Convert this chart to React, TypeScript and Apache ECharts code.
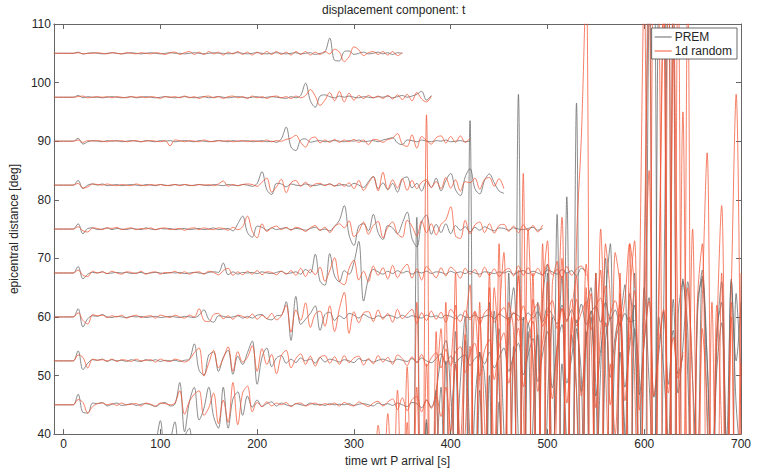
import React, { useEffect, useRef } from "react";
import * as echarts from "echarts";

// ---- data: transverse displacement traces, amplitude (deg units) every 5 s ----
const STEP = 5;
const xTicks = [0, 100, 200, 300, 400, 500, 600, 700];

const prem105 = [
  0,0,0,0,0,0.2,-0.1,0,0.1,0,
  -0.1,0,0.1,0,-0.1,0,0.1,0,-0.1,0,
  0.1,0,-0.1,0,0.1,0,0,-0.1,0,0.1,
  0,-0.1,0,0.1,0,0,-0.1,0,0.1,0,
  -0.1,0,0.1,0,-0.1,0,0.1,0,-0.1,0,
  0.1,-0.1,0,0.1,-0.2,0,0.2,2.6,-1.2,-1.3,
  0.3,0.4,-0.2,0,0.2,-0.1,0,0.2,-0.1,0.1,
  -0.2,0.1,0,
];
const rand105 = [
  0,0,0,0,0,0.1,-0.1,0,0,0.1,
  0,-0.1,0.1,0,-0.1,0.1,0,-0.1,0.1,0,
  -0.1,0.1,0,-0.2,0.1,0.2,-0.2,0.1,0.3,-0.2,
  0.2,-0.2,0.3,-0.1,0.2,-0.3,0.2,-0.1,0.3,-0.2,
  0.2,-0.3,0.2,-0.2,0.3,-0.2,0.3,-0.2,0.2,-0.3,
  0.3,-0.2,0.3,-0.3,0.2,-0.2,0.3,-0.1,0.7,0.2,
  -1.4,-0.6,1.1,0.6,-0.4,0.1,0.3,-0.2,0.3,-0.3,
  0.3,-0.4,0.1,
];
const prem97 = [
  0,0,0,0,0,0.3,-0.1,0.1,0,0,
  -0.1,0,0.1,0,-0.1,0,0.1,-0.1,0,0.1,
  0,-0.1,0,0.1,0,-0.1,0,0.1,0,-0.1,
  0,0.1,-0.1,0,0.1,0,-0.1,0,0.1,0,
  -0.1,0,0.1,-0.1,0,0.1,0,-0.1,-0.2,0.1,
  -0.1,0.3,2.4,-0.6,-1.7,0.2,0.4,0.1,-0.1,0.2,
  0,0.2,0,-0.1,0.1,0,-0.1,0.1,0,0.2,
  -0.1,0.1,0.3,0,0.2,0.5,1.0,-0.5,0.3,
];
const rand97 = [
  0,0,0,0,0,0.1,0.2,-0.1,0,0.1,
  0,0.1,-0.1,0.1,0,-0.1,0.1,0,0.1,-0.1,
  0.1,0,-0.2,0.1,0,0.1,-0.1,0.2,-0.1,0.1,
  -0.2,0.1,0.2,-0.1,0.1,-0.2,0.1,0.2,-0.1,0.1,
  -0.2,0.2,-0.1,0.1,-0.2,0.1,0.2,-0.1,0.1,-0.2,
  0.2,-0.1,0.3,1.3,0.2,-1.4,-0.5,0.8,-0.6,1.0,
  -0.8,0.7,-0.5,0.3,-0.2,0.3,-0.1,0.2,-0.2,0.3,
  -0.3,0.4,-0.4,0.5,-0.6,0.8,-0.3,-0.8,0.2,
];
const prem90 = [
  0,0,0,0,0,0.5,-0.5,-0.1,0.1,0,
  -0.1,0.1,0,0.1,-0.1,0,0.1,0,-0.1,0.1,
  0,-0.1,0.1,0,0.1,-0.1,0,0.1,0,-0.1,
  0.1,0,-0.1,0,0.1,0,-0.1,0.1,0,0,
  0.1,-0.1,0,0.1,-0.1,0,-0.2,0.4,2.4,-1.0,
  -1.6,0.2,0.4,-0.2,0,0.1,-0.1,0,0.1,0,
  -0.1,0.1,0,0.2,-0.1,0,0.1,-0.1,0.2,0.4,
  0.6,-0.3,-0.6,0.2,0.1,-0.1,0.2,0,-0.1,0.1,
  0,0.2,-0.1,0,0.1,-0.1,0,
];
const rand90 = [
  0,0,0,0,0,0.2,-0.2,0.1,0,0.1,
  0,-0.1,0.1,0,0.1,-0.1,0,0.1,-0.1,0,
  0.1,0,-0.1,0.1,-0.8,0.2,0.1,-0.1,0.1,0,
  -0.1,0.2,0,-0.1,0.1,0,0.1,-0.1,0,0.1,
  -0.1,0.1,0,-0.1,0.2,-0.1,0.1,0,0.3,0.5,
  1.0,-0.2,-1.0,0.4,0.7,-0.3,0.2,-0.2,0.3,-0.2,
  0.2,-0.1,0.3,-0.2,0.2,-0.6,0.3,0.2,-0.2,0.3,
  0.5,1.3,-0.5,-0.9,1.1,-1.2,0.8,0.1,-0.5,0.6,
  0.9,-0.3,0.8,-0.2,0.9,-0.2,0.5,
];
const prem82 = [
  0,0,0,0,0,0.8,-0.6,0,0.2,0,
  0.2,-0.1,0,0.1,-0.1,0,0.1,0,-0.1,0.1,
  0,-0.1,0.1,0,-0.1,0.1,0,0.1,-0.1,0,
  0.1,0,-0.1,0.1,0,-0.1,0.1,0,-0.1,0.1,
  0,-0.2,0.3,2.3,-0.8,-1.6,0.3,0.2,-0.3,0.2,
  0,-0.1,0.2,0,-0.1,0.1,0,0.2,-0.1,0,
  0.1,-0.2,0.3,0,-0.4,0.6,1.5,-0.6,0.4,-0.8,
  0.3,-1.2,1.0,1.4,-0.5,0.3,-1.0,0.6,-0.4,1.2,
  -1.0,0.8,2.0,-0.8,-1.8,1.4,2.8,-0.6,-1.5,0.8,
  1.9,0.4,-1.0,-1.4,
];
const rand82 = [
  0,0,0,0,0,0.3,-0.5,-0.3,0.2,0.1,
  0,0.2,0,-0.1,0.1,0,-0.1,0.2,0,-0.1,
  0.1,0,0.1,-0.1,0,0.1,-0.1,0.1,0,-0.1,
  0.1,0,0.1,-0.1,0.2,0.7,-0.2,0.1,-0.1,0.1,
  0.2,0.1,-0.2,0.5,1.2,-1.2,-0.3,1.0,-1.3,0.4,
  0.8,-0.2,0.5,-0.3,0.2,0.3,-0.1,0.2,-0.2,0.3,
  -0.2,0.4,-0.6,0.8,-0.9,0.3,1.4,-1.0,2.2,-0.7,
  0.9,-0.5,1.1,-0.9,0.8,-0.6,0.5,0.9,-0.4,0.6,
  -0.6,1.3,-0.5,0.9,-1.0,0.6,0.4,1.2,-0.7,1.0,
  1.3,-0.2,1.1,-0.6,
];
const prem75 = [
  0,0,0,0,0,0.9,-0.8,0.1,0.2,-0.1,
  0,0.2,-0.1,0.1,0,-0.1,0.1,0,-0.1,0.2,
  0,-0.1,0.1,0,0.1,-0.1,0,0.1,-0.1,0,
  0.1,-0.1,0,0.2,-0.1,0,0.1,-0.3,0.9,2.2,
  -0.6,-1.4,0.5,0.3,-0.2,0.2,-0.1,0.1,0.2,-0.1,
  0.1,0,-0.2,0.1,0.3,-0.2,0,-0.3,0.5,1.5,
  4.0,-1.0,-2.8,0.5,0.9,-0.3,2.5,-0.6,-1.8,0.6,
  0.2,-0.8,1.0,2.9,-1.6,-3.0,1.2,2.4,-0.9,0.8,
  -0.6,0.9,-0.8,0.6,-0.2,0.4,-0.5,0.3,-0.2,0.4,
  0,-0.3,0.2,0.1,-0.2,0.2,0,-0.1,0.1,0.3,
  -0.2,0.1,
];
const rand75 = [
  0,0,0,0,0,0.4,-0.3,-0.5,0.2,0.1,
  -0.1,0.2,0.1,0.3,-0.1,0.1,0.2,-0.1,0.1,0,
  0.2,-0.1,0.1,0.2,-0.1,0,0.1,-0.2,0.1,0.2,
  -0.1,0.2,0,-0.1,0.2,0.1,-0.2,0.3,-0.1,0.4,
  2.2,-0.4,-1.5,0.9,-0.4,0.2,0.5,-0.1,0.3,-0.2,
  0.3,0.1,-0.4,0.2,0.6,-0.2,0.3,-0.6,0.4,0.9,
  0.2,1.4,-1.3,-0.4,1.2,-0.9,0.6,1.3,-1.5,0.3,
  1.2,-0.8,-1.4,1.5,0.5,-1.2,1.4,-0.6,0.9,-1.0,
  0.8,1.6,3.8,-1.2,-1.6,1.5,-0.8,0.7,1.2,-0.6,
  0.9,-0.7,0.6,0.8,-0.4,0.5,-0.6,0.7,-0.3,0.6,
  -0.5,0.7,
];
const prem67 = [
  0,0,0,0,0,1.1,-1.0,-0.2,0.1,0,
  0.2,-0.1,0,0.1,0,0.1,-0.1,0,0.1,-0.1,
  0,0.1,0,-0.1,0.1,0,0.1,-0.1,0,0.1,
  0,-0.1,0.1,0.2,0.1,1.7,-0.3,0.2,-0.2,0.1,
  0,0.1,-0.1,0.2,0,-0.1,0.1,0.3,-0.1,0,
  0.2,-0.2,0.6,0,3.2,-1.4,-2.1,3.3,-0.5,-1.5,
  0.4,-0.2,1.8,5.4,-4.8,-1.0,0.6,0.2,-0.2,0.3,
  -0.1,0.4,0,0.3,-0.2,0.2,0,0.3,-0.1,0.2,
  0.1,-0.2,0.3,0,0.2,-0.1,0.3,0,-0.2,0.2,
  0.1,-0.1,0.2,0,0.3,-0.2,0.2,0.4,-0.1,0.3,
  0,-0.3,0.5,0.2,-0.2,0.6,0,0.4,-0.5,0.8,0.3,
];
const rand67 = [
  0,0,0,0,0,0.5,-0.4,-0.6,0.3,0,
  0.2,-0.1,0.3,0,-0.2,0.2,0.1,-0.1,0.3,-0.2,
  0.1,0.2,-0.2,0.1,0,0.3,-0.1,0.2,-0.2,0.1,
  0.2,-0.2,0.3,0.1,-0.3,0.4,0.8,-0.4,0.2,-0.3,
  0.3,-0.2,0.4,-0.3,0.2,0.1,-0.3,0.3,-0.2,0.4,
  -0.4,0.8,-0.6,0.6,-0.3,1.0,-1.4,0.4,2.6,-1.4,
  -2.0,0.8,2.2,-1.2,0.3,-1.5,1.2,-0.4,0.9,-1.0,
  1.3,-0.8,0.6,1.5,-0.9,0.7,-1.2,1.1,0.2,-0.8,
  0.9,-0.5,1.0,0.3,-0.9,0.8,-0.2,0.6,-0.7,1.0,
  -0.4,0.7,-0.6,0.3,0.8,-0.5,1.2,-0.4,0.9,-0.6,
  0.8,-0.4,1.5,-0.3,0.6,-0.8,1.1,-0.4,0.7,1.2,-0.5,
];
const prem60 = [
  0,0,0,0,0,1.4,-1.7,-0.3,0.2,0.1,
  0.4,0,-0.1,0.1,0,-0.1,0.1,0,0.1,-0.1,
  0,0.1,-0.1,0,0.1,0,-0.1,0.1,0,-0.1,
  0.3,1.2,-0.4,-0.9,0.2,0.1,-0.1,0,0.2,-0.2,
  0.1,-0.2,0.3,0.4,-0.3,-0.5,0.2,0.3,2.6,-4.0,
  3.5,-1.3,-0.4,0.6,1.9,-2.3,0.4,0.8,-0.6,0.2,
  -0.3,0.6,0.3,-0.2,0.4,0,-0.3,0.2,-0.1,0.3,
  0.1,-0.2,0.3,-0.1,0.2,0,-0.2,0.3,0,0.2,
  -0.2,0.3,0.1,-0.3,0.4,0,-0.1,0.3,-0.2,0.1,
  0.3,-0.3,0.5,0,-0.4,0.6,0.2,-0.5,0.7,-0.2,
  0.9,-0.8,1.5,0.4,-1.2,2.0,-0.6,1.2,-1.0,2.2,
  -1.3,0.8,1.8,-0.9,2.5,-0.4,1.2,-1.5,0.6,-0.8,
  -0.6,
];
const rand60 = [
  0,0,0,0,0,0.7,-0.6,-1.2,0.4,0.2,
  0.3,-0.1,0.2,0,0.3,-0.2,0.1,0.3,-0.1,0.1,
  0.2,-0.2,0.3,0.1,-0.1,0.3,0,-0.2,0.3,0,
  1.4,-0.6,-0.8,0.4,0.6,-0.3,0.2,-0.4,0.3,0.1,
  -0.2,0.5,-0.4,0.3,-0.3,0.6,-0.5,0.2,2.0,-2.6,
  1.2,-0.6,2.4,-1.8,0.5,1.0,-1.6,1.9,-2.5,1.4,
  4.2,-2.8,0.9,-1.0,0.7,0.9,-0.8,1.2,-0.4,0.6,
  -0.9,1.3,-0.3,0.5,1.3,-1.1,0.7,-0.6,1.0,-0.4,
  0.8,-0.9,1.3,0.2,-0.8,1.1,-0.5,0.9,-1.2,0.7,
  1.4,-0.9,0.6,1.6,-1.3,0.8,-0.6,1.9,-1.1,0.7,
  2.3,-1.6,0.9,2.8,-2.0,1.4,-0.8,3.0,-1.5,0.7,
  2.6,-2.2,1.8,3.2,-1.6,0.6,2.8,-1.2,3.0,12.5,
  5.0,
];
const prem52 = [
  0,0,0,0,0,1.7,-1.5,-0.4,0.2,0.1,
  0.3,-0.1,0.2,0,0.1,-0.1,0.2,0,-0.1,0.2,
  0,0.2,-0.1,0.1,0,0.1,-0.1,0.1,0.3,2.9,
  -1.6,-2.4,1.0,1.5,-1.8,0.6,1.8,-2.3,0.8,-0.6,
  1.4,3.4,-4.0,0.6,2.2,-1.0,0.5,0.9,-0.4,0.3,
  -0.3,0.5,0,0.3,-0.4,0.6,-0.2,0.3,0.1,-0.2,
  0.2,0,-0.3,0.4,0,0.2,-0.2,0.1,0.3,0,
  -0.2,0.3,0.1,-0.1,0.4,-0.2,0.5,0,-0.3,0.4,
  1.2,-0.6,0.8,-0.3,0.6,1.0,-0.8,0.4,0.9,-0.5,
  1.5,-1.2,0.6,2.2,-1.8,0.9,3.0,-2.4,1.0,3.8,
  -3.5,1.2,5.0,-4.6,2.4,6.2,-3.8,0.6,7.0,-5.2,
  3.4,8.5,-6.0,1.8,6.5,-2.8,4.2,8.0,-4.5,2.6,
  9.5,-5.8,3.0,10.8,-6.2,1.2,8.4,-4.0,5.2,-2.2,
  1.0,
];
const rand52 = [
  0,0,0,0,0,1.0,0.6,-1.2,0.3,0.1,
  0.2,0,0.3,-0.1,0.2,0.1,-0.1,0.3,0,0.1,
  0.2,-0.2,0.3,0,-0.1,0.3,0.1,-0.2,0.2,1.4,
  2.2,-2.6,-0.4,1.8,-1.2,0.4,2.4,-1.8,1.6,-0.2,
  0.6,2.6,-1.8,2.1,-0.6,1.1,-2.2,0.9,1.8,-1.2,
  0.4,1.2,-0.6,0.8,-0.9,0.6,0.9,-0.4,0.7,-0.6,
  0.9,-0.3,0.5,0.8,-0.7,0.4,-0.5,0.9,-0.2,0.6,
  -0.6,1.0,0.4,-0.8,0.7,-0.3,1.1,-0.9,0.5,1.4,
  -1.2,2.0,-0.8,1.5,2.4,-2.0,1.2,3.0,-2.6,1.8,
  3.6,-3.2,2.4,4.8,-3.8,1.0,5.6,-4.4,2.8,6.8,
  -5.2,3.2,8.0,-6.5,2.2,9.0,-7.2,4.5,10.5,-6.0,
  3.0,11.5,-8.0,5.2,12.8,-7.5,2.5,9.6,-6.8,4.2,
  12.0,-8.4,3.6,10.2,-6.0,2.8,8.8,-5.5,4.0,-3.0,
  1.5,
];
const prem45 = [
  0,0,0,0,0,1.8,-1.3,-1.4,0.3,0.2,
  0.4,-0.2,0.1,0.3,-0.1,0,0.2,-0.1,0.1,0.2,
  0,-0.3,0.2,0.4,-0.2,0.1,3.8,-4.6,0.5,3.0,
  -2.6,-0.6,3.0,-2.0,-4.0,3.0,-4.0,1.0,2.2,-1.8,
  1.5,-0.4,0.8,-0.3,0.2,0.5,-0.2,0.3,0,-0.2,
  0.2,0,-0.1,0.3,0,0.1,-0.1,0.2,0,0.1,
  0,0.2,-0.1,0.1,0.2,0,-0.2,0.3,0,0.2,
  -0.1,0.3,0,-0.3,0.4,0.2,-0.5,0.8,-0.4,2.5,
  8.0,11.0,2.0,-9.0,4.0,15.0,-6.0,-14.0,9.0,5.0,
  -12.0,16.0,3.0,-18.0,12.0,20.0,-6.0,-22.0,14.0,8.0,
  -15.0,18.0,24.0,-10.0,5.0,22.0,-20.0,12.0,2.0,-24.0,
  16.0,20.0,-14.0,6.0,25.0,-18.0,10.0,14.0,-8.0,19.0,
  12.0,-10.0,20.0,4.0,-12.0,15.0,6.0,-6.0,18.0,2.0,
  10.0,21.0,4.0,-10.0,22.0,8.0,-12.0,6.0,14.0,-6.0,
  21.0,0,-10.0,
];
const rand45 = [
  0,0,0,0,0,0.9,0.4,-1.4,-0.3,0.2,
  0.3,0,0.2,-0.1,0.3,0,0.1,0.2,-0.2,0.3,
  0.1,-0.2,0.3,0.2,0,0.3,2.4,-1.6,0.6,1.8,
  2.4,-1.8,-0.5,2.0,-3.2,0.8,-3.0,3.8,-3.4,2.0,
  3.2,-1.2,0.4,-0.3,0.5,-0.2,0.3,0,0.4,-0.3,
  0.2,0.3,-0.2,0.1,0.3,-0.1,0.2,0,0.3,-0.2,
  0.4,0,-0.2,0.5,0.1,-0.3,0.3,0.6,-0.2,0.5,
  1.0,-0.8,1.2,-1.0,0.9,1.4,-1.2,0.8,-0.6,1.4,
  -2.0,3.0,-4.5,7.0,-6.0,12.0,-10.0,16.0,4.0,-12.0,
  20.0,-8.0,14.0,26.0,-18.0,8.0,22.0,-20.0,30.0,6.0,
  -24.0,18.0,28.0,-14.0,10.0,32.0,-26.0,15.0,22.0,-18.0,
  24.0,12.0,-22.0,30.0,6.0,-16.0,26.0,20.0,-12.0,18.0,
  28.0,-20.0,14.0,40.0,-25.0,20.0,70.0,-30.0,60.0,-22.0,
  50.0,-15.0,30.0,-10.0,18.0,43.0,-20.0,12.0,34.0,-14.0,
  20.0,53.0,-10.0,
];
// traces at 37.5 and 30 deg lie below the frame; only their large swings show
const prem37 = [
  -1.0,1.0,4.8,-3.0,1.0,4.6,-3.0,2.0,3.5,-4.0,
  -2.0,1.0,-3.0,2.0,-4.0,0,-2.0,1.0,-3.0,0,
  -1.0,0,-2.0,1.0,-1.0,0,-1.0,0,-1.0,0,
  0,-1.0,0,-1.0,0,-1.0,0,-1.0,0,-1.0,
  0,-1.0,0,-1.0,0,-1.0,0,-1.0,0,-1.0,
  -2.0,0,-4.0,2.0,-20.0,39.5,-30.0,5.0,-15.0,10.0,
  -20.0,15.0,-25.0,20.0,-10.0,-30.0,56.0,-25.0,10.0,-20.0,
  25.0,-15.0,8.0,-20.0,30.0,-25.0,60.5,-30.0,20.0,-10.0,
  25.0,-20.0,30.0,-25.0,40.0,-10.0,43.0,-30.0,59.0,-35.0,
  20.0,-25.0,30.0,-20.0,25.0,35.0,-30.0,20.0,28.0,-25.0,
  30.0,-20.0,25.0,90.0,-40.0,85.0,90.0,-45.0,80.0,-30.0,
  29.0,20.0,-20.0,25.0,29.0,15.0,-10.0,20.0,25.0,-20.0,
  29.0,15.0,25.0,
];
const rand37 = [
  0,0.5,-1.0,1.0,-0.5,0,1.0,-1.0,0.5,-1.0,
  0,-1.0,1.0,-1.0,0,-1.0,1.0,-1.0,0,-1.0,
  0,-1.0,0,-1.0,0,-1.0,0,-1.0,0,-1.0,
  0,-1.0,0,-1.0,0,-1.0,0,-1.0,0,-1.0,
  0,-1.0,0,-1.0,-2.0,2.0,-4.0,4.0,-8.0,6.0,
  -12.0,10.0,-16.0,14.0,-20.0,25.0,-30.0,57.0,-35.0,20.0,
  -30.0,25.0,-20.0,30.0,-25.0,20.0,28.0,-30.0,25.0,-20.0,
  30.0,-25.0,35.0,-30.0,25.0,20.0,-28.0,47.0,-30.0,30.0,
  -25.0,35.0,-30.0,28.0,32.0,-35.0,30.0,-25.0,35.0,53.0,
  80.0,-40.0,30.0,-30.0,35.0,25.0,-35.0,30.0,-25.0,35.0,
  -30.0,25.0,80.0,-45.0,85.0,80.0,-40.0,90.0,-45.0,85.0,
  -30.0,80.0,-40.0,25.0,35.0,-30.0,25.0,-20.0,30.0,-25.0,
  25.0,-20.0,30.0,
];
const prem30 = [
  -20.0,-5.0,-25.0,0,-15.0,8.0,-30.0,12.0,-10.0,5.0,
  18.0,-25.0,10.0,22.0,-20.0,26.0,-8.0,15.0,24.0,-30.0,
  20.0,-15.0,28.0,10.0,-22.0,25.0,-12.0,30.0,-18.0,12.0,
  27.0,-20.0,15.0,30.0,-25.0,22.0,8.0,-15.0,28.0,20.0,
  -25.0,30.0,18.0,-20.0,26.0,30.0,-15.0,24.0,10.0,-22.0,
  28.0,20.0,-30.0,85.0,90.0,-40.0,30.0,88.0,-25.0,30.0,
  36.0,20.0,-10.0,30.0,38.0,12.0,-15.0,25.0,36.0,5.0,
  -10.0,34.0,20.0,
];
const rand30 = [
  -10.0,5.0,-15.0,12.0,-20.0,18.0,-8.0,22.0,-25.0,15.0,
  28.0,-10.0,20.0,32.0,-15.0,10.0,25.0,-20.0,30.0,12.0,
  -18.0,35.0,22.0,-25.0,30.0,-10.0,38.0,15.0,-20.0,33.0,
  26.0,-15.0,36.0,-28.0,20.0,40.0,-12.0,30.0,18.0,-30.0,
  35.0,-20.0,28.0,38.0,-25.0,22.0,10.0,34.0,-18.0,30.0,
  20.0,-30.0,40.0,85.0,-20.0,30.0,82.0,-40.0,86.0,25.0,
  -25.0,35.0,20.0,-30.0,28.0,15.0,-20.0,32.0,10.0,-25.0,
  30.0,-15.0,22.0,
];

const distances = [105, 97.5, 90, 82.5, 75, 67.5, 60, 52.5, 45, 37.5, 30];
const startTimes = [-10, -10, -10, -10, -10, -10, -10, -10, -10, 90, 340];
const premTraces = [prem105, prem97, prem90, prem82, prem75, prem67, prem60, prem52, prem45, prem37, prem30];
const randTraces = [rand105, rand97, rand90, rand82, rand75, rand67, rand60, rand52, rand45, rand37, rand30];

const GRAY = "#666666";
const RED = "#f35535";
const AXIS = "#666666";
const TEXT = "#262626";
const FONT = "Liberation Sans, Arial, Helvetica, sans-serif";

function toXY(vals: number[], start: number, off: number): number[][] {
  return vals.map((v, i) => [start + i * STEP, off + v]);
}

export default function App() {
  const ref = useRef<HTMLDivElement>(null);
  useEffect(() => {
    if (!ref.current) return;
    const chart = echarts.init(ref.current, undefined, { renderer: "svg" });
    const mk = (name: string, color: string, data: number[][]) => ({
      type: "line",
      name,
      data,
      showSymbol: false,
      symbol: "none",
      smooth: 0.35,
      clip: true,
      silent: true,
      color,
      itemStyle: { color },
      lineStyle: { color, width: 0.75 },
    });
    const series: any[] = [];
    distances.forEach((d, k) => {
      series.push(mk("PREM", GRAY, toXY(premTraces[k], startTimes[k], d)));
    });
    distances.forEach((d, k) => {
      series.push(mk("1d random", RED, toXY(randTraces[k], startTimes[k], d)));
    });
    const tickStyle = { color: AXIS, width: 1 };
    chart.setOption({
      animation: false,
      backgroundColor: "#ffffff",
      textStyle: { fontFamily: FONT },
      title: {
        text: "displacement component: t",
        left: 322,
        top: 4,
        padding: 0,
        textStyle: { fontSize: 12, fontWeight: "normal", color: TEXT, fontFamily: FONT },
      },
      legend: {
        data: ["PREM", "1d random"],
        orient: "vertical",
        right: 23,
        top: 28,
        padding: [2, 5, 1, 3],
        itemGap: 0,
        itemWidth: 17,
        itemHeight: 1,
        icon: "rect",
        backgroundColor: "#ffffff",
        borderColor: "#444444",
        borderWidth: 0.8,
        borderRadius: 0,
        textStyle: { fontSize: 12, color: TEXT, fontFamily: FONT, lineHeight: 14, padding: [0, 0, 0, -2] },
        selectedMode: false,
      },
      grid: { left: 52, right: 19, top: 24, bottom: 29, containLabel: false },
      xAxis: [
        {
          type: "value",
          min: -10,
          max: 700,
          position: "bottom",
          axisLine: { show: true, onZero: false, lineStyle: tickStyle },
          axisTick: { show: true, inside: true, length: 5, customValues: xTicks, lineStyle: tickStyle },
          axisLabel: { customValues: xTicks, color: TEXT, fontSize: 12, margin: 4, fontFamily: FONT },
          splitLine: { show: false },
          name: "time wrt P arrival [s]",
          nameLocation: "middle",
          nameGap: 15,
          nameTextStyle: { fontSize: 12, color: TEXT, fontFamily: FONT },
        },
        {
          type: "value",
          min: -10,
          max: 700,
          position: "top",
          axisLine: { show: true, onZero: false, lineStyle: tickStyle },
          axisTick: { show: true, inside: true, length: 5, customValues: xTicks, lineStyle: tickStyle },
          axisLabel: { show: false },
          splitLine: { show: false },
        },
      ],
      yAxis: [
        {
          type: "value",
          min: 40,
          max: 110,
          interval: 10,
          position: "left",
          axisLine: { show: true, onZero: false, lineStyle: tickStyle },
          axisTick: { show: true, inside: true, length: 5, lineStyle: tickStyle },
          axisLabel: { color: TEXT, fontSize: 12, margin: 3, fontFamily: FONT },
          splitLine: { show: false },
          name: "epicentral distance [deg]",
          nameLocation: "middle",
          nameGap: 27,
          nameRotate: 90,
          nameTextStyle: { fontSize: 12, color: TEXT, fontFamily: FONT },
        },
        {
          type: "value",
          min: 40,
          max: 110,
          interval: 10,
          position: "right",
          axisLine: { show: true, onZero: false, lineStyle: tickStyle },
          axisTick: { show: true, inside: true, length: 5, lineStyle: tickStyle },
          axisLabel: { show: false },
          splitLine: { show: false },
        },
      ],
      series,
    });
    return () => chart.dispose();
  }, []);
  return (
    <div
      ref={ref}
      style={{ position: "fixed", left: 0, top: 0, width: 760, height: 472, background: "#fff" }}
    />
  );
}
